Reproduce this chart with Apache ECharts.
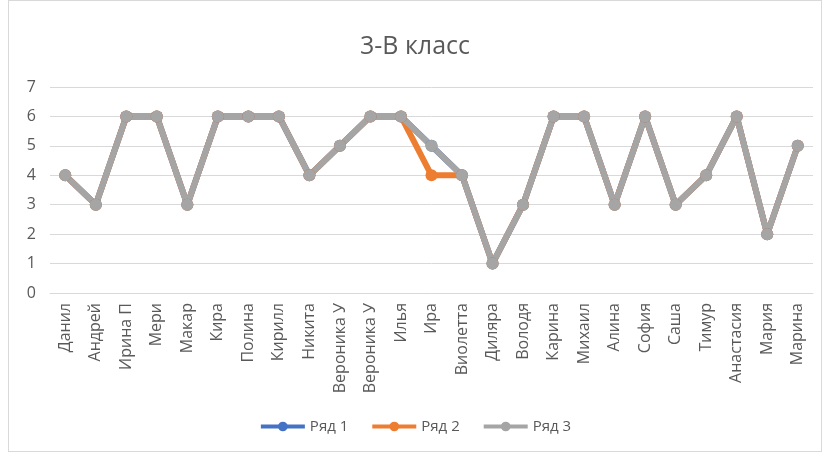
<html>
<head>
    <meta http-equiv="Content-Type" content="text/html; charset=utf-8" />
    <title>3-В класс</title>
    <style type="text/css">
        * { margin: 0; padding: 0 }
        html, body { width: 100%; height: 100%; background: #fff; }
        #chart {
            position: absolute;
            left: 8px; top: 0; width: 814px; height: 452px;
            border: 1px solid #d9d9d9;
            box-sizing: border-box;
        }
    </style>
</head>
<body>
    <div id="chart"></div>
    <script src="https://cdn.jsdelivr.net/npm/echarts@6/dist/echarts.min.js"></script>
    <script>
        const names = ['Данил', 'Андрей', 'Ирина П', 'Мери', 'Макар', 'Кира', 'Полина', 'Кирилл', 'Никита',
            'Вероника У', 'Вероника У', 'Илья', 'Ира', 'Виолетта', 'Диляра', 'Володя', 'Карина', 'Михаил',
            'Алина', 'София', 'Саша', 'Тимур', 'Анастасия', 'Мария', 'Марина'];
        const row1 = [4, 3, 6, 6, 3, 6, 6, 6, 4, 5, 6, 6, 5, 4, 1, 3, 6, 6, 3, 6, 3, 4, 6, 2, 5];
        const row2 = [4, 3, 6, 6, 3, 6, 6, 6, 4, 5, 6, 6, 4, 4, 1, 3, 6, 6, 3, 6, 3, 4, 6, 2, 5];
        const row3 = [4, 3, 6, 6, 3, 6, 6, 6, 4, 5, 6, 6, 5, 4, 1, 3, 6, 6, 3, 6, 3, 4, 6, 2, 5];
        const seriesNames = ['Ряд 1', 'Ряд 2', 'Ряд 3'];
        const colors = ['#4472C4', '#ED7D31', '#A5A5A5'];

        const font = '"Open Sans", "Noto Sans", sans-serif';
        const chart = echarts.init(document.getElementById('chart'));
        const mk = (name, data, color) => ({
            name: name,
            type: 'line',
            data: data,
            symbol: 'circle',
            symbolSize: 12,
            lineStyle: { width: 6, color: color },
            itemStyle: { color: color },
            animation: false
        });
        chart.setOption({
            animation: false,
            title: {
                text: '3-В класс',
                left: 'center',
                top: 28,
                textStyle: { fontFamily: font, fontSize: 25, fontWeight: 'normal', color: '#595959' }
            },
            legend: {
                bottom: 12,
                left: 'center',
                itemWidth: 44,
                itemHeight: 12,
                itemGap: 22,
                lineStyle: { width: 4 },
                textStyle: { fontFamily: font, fontSize: 15, color: '#595959' },
                data: seriesNames
            },
            grid: { left: 41, right: 8, top: 86, bottom: 158, containLabel: false },
            xAxis: {
                type: 'category',
                data: names,
                boundaryGap: true,
                axisLine: { lineStyle: { color: '#d9d9d9', width: 1 } },
                axisTick: { show: false },
                axisLabel: {
                    rotate: 90,
                    interval: 0,
                    margin: 10,
                    fontFamily: font,
                    fontSize: 16,
                    color: '#595959'
                }
            },
            yAxis: {
                type: 'value',
                min: 0,
                max: 7,
                interval: 1,
                axisLine: { show: false },
                axisTick: { show: false },
                splitLine: { lineStyle: { color: '#d9d9d9', width: 1 } },
                axisLabel: { fontFamily: font, fontSize: 16, color: '#595959', margin: 14 }
            },
            series: [
                mk(seriesNames[0], row1, colors[0]),
                mk(seriesNames[1], row2, colors[1]),
                mk(seriesNames[2], row3, colors[2])
            ]
        });
    </script>
</body>
</html>
